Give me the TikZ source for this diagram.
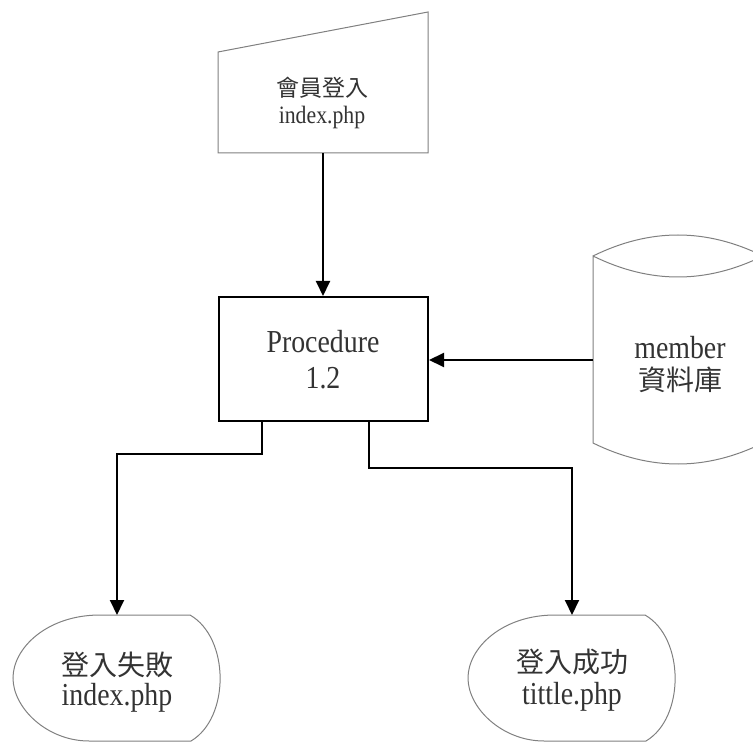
\documentclass[tikz,border=0pt]{standalone}
\usepackage{fontspec}
\setmainfont{Liberation Serif}[FakeStretch=0.87]
\newfontfamily\cjk{Noto Sans CJK TC}
\usetikzlibrary{arrows.meta}
\tikzset{
  shapeline/.style={draw=black!50, line width=1pt},
  conn/.style={draw=black, line width=2pt},
  arr/.style={conn, -{Triangle[length=15pt,width=14pt]}},
  lbl/.style={inner sep=0pt, text=black!80},
  big/.style={lbl, font=\fontsize{32}{36}\selectfont},
  bigc/.style={lbl, font=\cjk\fontsize{28}{34}\selectfont},
  small/.style={lbl, font=\fontsize{25}{29}\selectfont},
  smallc/.style={lbl, font=\cjk\fontsize{23}{28}\selectfont},
  disp/.pic={
    \draw[shapeline] (-17,-63) -- (73,-63)
      .. controls (113,-40) and (113,40) .. (74,63) -- (-28,63)
      .. controls (-70,63) and (-104,30) .. (-104,0)
      .. controls (-104,-30) and (-70,-63) .. (-17,-63) -- cycle;
  }
}
\begin{document}
\begin{tikzpicture}[x=1pt,y=-1pt]
\useasboundingbox (0,0) rectangle (753,743);
\clip (0,0) rectangle (753,743);
% manual input
\draw[shapeline] (218,52) -- (428,12) -- (428,153) -- (218,153) -- cycle;
\coordinate (in-bot) at (323,153);
\node[smallc] (in-l1) at (322,88) {會員登入};
\node[small] (in-l2) at (322,117) {index.php};
% procedure
\node[draw=black, line width=2pt, minimum width=209pt, minimum height=124pt, inner sep=0pt] (proc) at (323.5,359) {};
\node[big] (proc-l1) at (323,342) {Procedure};
\node[big] (proc-l2) at (323,378) {1.2};
% database cylinder
\draw[shapeline] (593,256) .. controls (650,228) and (706,228) .. (763,256)
  .. controls (706,284) and (650,284) .. (593,256) -- (593,443)
  .. controls (650,471) and (706,471) .. (763,443) -- (763,256);
\coordinate (db-left) at (593,360);
\node[big] (db-l1) at (680,348) {member};
\node[bigc] (db-l2) at (680,380) {資料庫};
% displays
\pic at (117,678) {disp};
\pic at (572,678) {disp};
\coordinate (fail-top) at (117,615);
\coordinate (ok-top) at (572,615);
\node[bigc] (fail-l1) at (117,665) {登入失敗};
\node[big] (fail-l2) at (117,698) {index.php};
\node[bigc] (ok-l1) at (572,662) {登入成功};
\node[big] (ok-l2) at (572,697) {tittle.php};
% connectors
\draw[arr] (in-bot) -- (in-bot |- proc.north);
\draw[arr] (db-left) -- (db-left -| proc.east);
\draw[arr] ([xshift=-61.5pt]proc.south) |- ++(0,32) -| (fail-top);
\draw[arr] ([xshift=45.5pt]proc.south) |- ++(0,46) -| (ok-top);
\end{tikzpicture}
\end{document}
